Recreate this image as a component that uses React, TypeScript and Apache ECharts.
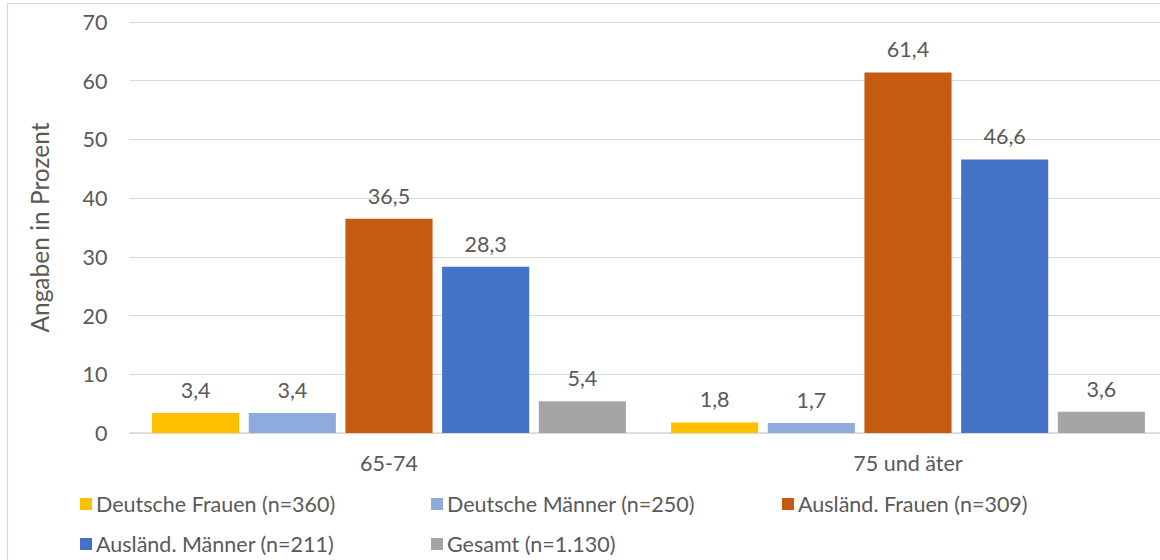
import React, { useEffect, useRef } from "react";
import * as echarts from "echarts";

const categories = ["65-74", "75 und äter"];
const seriesNames = [
  "Deutsche Frauen (n=360)",
  "Deutsche Männer (n=250)",
  "Ausländ. Frauen (n=309)",
  "Ausländ. Männer (n=211)",
  "Gesamt (n=1.130)",
];
const deutscheFrauen = [3.4, 1.8];
const deutscheMaenner = [3.4, 1.7];
const auslFrauen = [36.5, 61.4];
const auslMaenner = [28.3, 46.6];
const gesamt = [5.4, 3.6];
const yTicks = [0, 10, 20, 30, 40, 50, 60, 70];

const colors = ["#FFC000", "#8FAADC", "#C55A11", "#4472C4", "#A5A5A5"];
const FONT = "Lato";
const TEXT = "#595959";
const FS = 21.5;

export default function App() {
  const ref = useRef<HTMLDivElement>(null);
  useEffect(() => {
    if (!ref.current) return;
    const chart = echarts.init(ref.current, null, { renderer: "svg" });
    const values = [deutscheFrauen, deutscheMaenner, auslFrauen, auslMaenner, gesamt];
    const legendPos = [
      [80, 493],
      [431, 493],
      [782, 493],
      [80, 533],
      [431, 533],
    ];
    chart.setOption({
      animation: false,
      textStyle: { fontFamily: FONT },
      graphic: [
        {
          type: "rect",
          shape: { x: 7.5, y: 3.5, width: 1300, height: 700 },
          style: { fill: "none", stroke: "#D9D9D9", lineWidth: 1.2 },
          silent: true,
        },
      ],
      legend: seriesNames.map((n, i) => ({
        data: [n],
        left: legendPos[i][0],
        top: legendPos[i][1],
        itemWidth: 12,
        itemHeight: 12,
        itemGap: 0,
        icon: "rect",
        padding: 0,
        textStyle: { fontFamily: FONT, fontSize: FS, color: TEXT, lineHeight: 22, padding: [0, 0, 0, -1] },
      })),
      grid: { left: 129.5, right: 12.5, top: 22, bottom: 127, containLabel: false },
      xAxis: {
        type: "category",
        data: categories,
        axisTick: { show: false },
        axisLine: { lineStyle: { color: "#D9D9D9", width: 1.5 } },
        axisLabel: { color: TEXT, fontSize: FS, margin: 19, fontFamily: FONT },
      },
      yAxis: {
        type: "value",
        min: yTicks[0],
        max: yTicks[yTicks.length - 1],
        interval: 10,
        name: "Angaben in Prozent",
        nameLocation: "middle",
        nameGap: 78,
        nameTextStyle: { color: TEXT, fontSize: 24.5, fontFamily: FONT },
        axisLine: { show: false },
        axisTick: { show: false },
        splitLine: { lineStyle: { color: "#D9D9D9", width: 1 } },
        axisLabel: { color: TEXT, fontSize: FS, margin: 22, fontFamily: FONT },
      },
      series: seriesNames.map((n, i) => ({
        name: n,
        type: "bar",
        data: values[i],
        itemStyle: { color: colors[i] },
        barGap: "11%",
        barCategoryGap: "8.7%",
        label: {
          show: true,
          position: "top",
          distance: 12,
          color: TEXT,
          fontSize: FS,
          fontFamily: FONT,
          formatter: (p: any) => p.value.toFixed(1).replace(".", ","),
        },
      })),
    });
    return () => chart.dispose();
  }, []);
  return (
    <div style={{ position: "fixed", left: 0, top: 0, width: 1160, height: 560, overflow: "hidden", background: "#fff" }}>
      <div ref={ref} style={{ width: 1180, height: 560 }} />
    </div>
  );
}
